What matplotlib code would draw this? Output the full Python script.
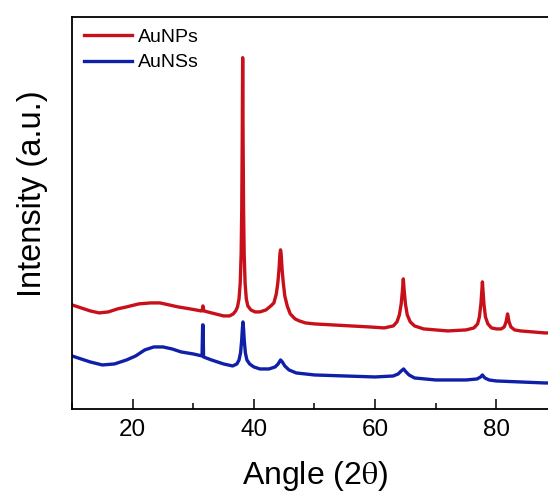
import matplotlib.pyplot as plt
from matplotlib.ticker import MultipleLocator

plt.rcParams["font.family"] = ["Liberation Sans", "DejaVu Sans"]
plt.rcParams["mathtext.fontset"] = "stix"

# ---- XRD patterns (2-theta in degrees, intensity in a.u.) ----
np_angle = [10.0, 11.5, 13.0, 14.5, 16.0, 17.5, 19.0, 21.0, 23.0, 24.5,
            26.0, 27.5, 29.5, 31.3, 31.45, 31.6, 31.75, 33.0, 35.0, 36.0,
            36.6, 37.0, 37.3, 37.55, 37.75, 37.9, 38.0, 38.08, 38.15, 38.22,
            38.3, 38.4, 38.55, 38.75, 39.0, 39.5, 40.2, 41.0, 42.0, 42.8,
            43.3, 43.7, 43.95, 44.15, 44.3, 44.4, 44.5, 44.65, 44.85, 45.1,
            45.5, 46.0, 46.8, 47.5, 48.5, 50.0, 53.0, 56.0, 59.0, 61.5,
            63.0, 63.6, 64.0, 64.3, 64.5, 64.65, 64.8, 65.0, 65.3, 65.8,
            66.5, 68.0, 72.0, 75.0, 76.3, 76.9, 77.2, 77.45, 77.6, 77.7,
            77.8, 77.95, 78.2, 78.6, 79.2, 80.0, 80.8, 81.3, 81.6, 81.85,
            82.1, 82.4, 83.0, 84.0, 86.0, 88.0, 90.0]
np_int = [104, 101, 98, 96, 97, 100, 102, 105, 106, 106,
          104, 102, 100, 98, 98, 103, 98, 96, 93, 93,
          95, 98, 102, 110, 126, 155, 200, 270, 351, 270,
          200, 155, 126, 110, 103, 99, 97, 97, 99, 103,
          106, 115, 126, 140, 155, 159, 155, 140, 126, 113,
          103, 95, 90, 88, 86, 85, 84, 83, 82, 81,
          83, 87, 94, 105, 118, 130, 118, 105, 94, 87,
          83, 80, 78, 79, 81, 85, 92, 105, 118, 127,
          118, 105, 92, 85, 81, 80, 80, 82, 87, 95,
          87, 82, 79, 78, 77, 76, 76]

ns_angle = [10.0, 11.5, 13.0, 15.0, 17.0, 19.0, 20.5, 22.0, 23.5, 25.0,
            26.5, 28.0, 30.0, 31.45, 31.55, 31.62, 31.7, 33.0, 35.0, 36.5,
            37.2, 37.55, 37.8, 37.98, 38.1, 38.2, 38.3, 38.42, 38.6, 38.85,
            39.3, 40.0, 41.0, 42.5, 43.5, 44.0, 44.4, 44.7, 45.1, 45.8,
            47.0, 50.0, 55.0, 60.0, 63.0, 63.8, 64.3, 64.7, 65.1, 65.6,
            66.5, 70.0, 75.0, 76.8, 77.4, 77.7, 78.1, 78.8, 80.0, 84.0,
            88.0, 90.0]
ns_int = [53, 50, 47, 44, 45, 49, 53, 59, 62, 62,
          60, 57, 55, 53, 84, 84, 52, 49, 45, 43,
          45, 49, 56, 68, 80, 87, 80, 68, 56, 49,
          45, 42, 40, 40, 42, 45, 49, 47, 43, 39,
          36, 34, 33, 32, 33, 35, 38, 40, 37, 34,
          31, 29, 29, 30, 32, 34, 31, 29, 28, 27,
          26, 26]

labels = ["AuNPs", "AuNSs"]
colors = ["#c8101a", "#0f1fa8"]


def main():
    fig = plt.figure(figsize=(5.48, 4.93), dpi=100)
    ax = fig.add_axes([0.1314, 0.1704, 0.885, 0.7958])

    ax.plot(np_angle, np_int, color=colors[0], lw=2.4, label=labels[0])
    ax.plot(ns_angle, ns_int, color=colors[1], lw=2.4, label=labels[1])

    ax.set_xlim(10, 90)
    ax.set_ylim(0, 392)
    ax.xaxis.set_major_locator(MultipleLocator(20))
    ax.xaxis.set_minor_locator(MultipleLocator(10))
    ax.tick_params(axis="x", which="major", direction="in", length=7,
                   width=1.1, labelsize=17.5, pad=7)
    ax.tick_params(axis="x", which="minor", direction="in", length=4,
                   width=1.1)
    ax.set_yticks([])
    for s in ax.spines.values():
        s.set_linewidth(1.3)

    ax.set_xlabel("Angle (2$\\mathrm{\\theta}$)", fontsize=23, labelpad=13)
    ax.set_ylabel("Intensity (a.u.)", fontsize=23.5)
    ax.yaxis.set_label_coords(-0.05, 0.548)

    ax.legend(loc="upper left", frameon=False, fontsize=14,
              handlelength=2.5, handletextpad=0.3, labelspacing=0.4,
              borderaxespad=0.2, bbox_to_anchor=(0.0, 1.0))

    fig.savefig("out.png", dpi=100)


if __name__ == "__main__":
    main()
